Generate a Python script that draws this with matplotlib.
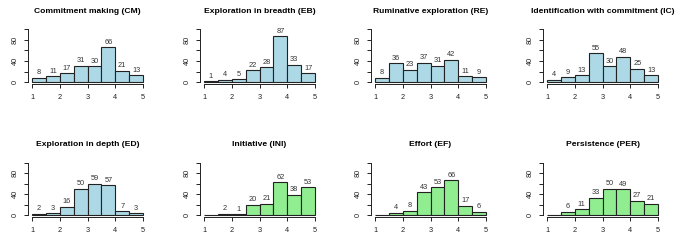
import matplotlib
matplotlib.use("Agg")
import matplotlib.pyplot as plt
import numpy as np

bin_edges = [1.0, 1.5, 2.0, 2.5, 3.0, 3.5, 4.0, 4.5, 5.0]
titles = ["Commitment making (CM)", "Exploration in breadth (EB)",
          "Ruminative exploration (RE)", "Identification with commitment (IC)",
          "Exploration in depth (ED)", "Initiative (INI)",
          "Effort (EF)", "Persistence (PER)"]
cm = [8, 11, 17, 31, 30, 66, 21, 13]
eb = [1, 4, 5, 22, 28, 87, 33, 17]
re_ = [8, 36, 23, 37, 31, 42, 11, 9]
ic = [4, 9, 13, 55, 30, 48, 25, 13]
ed = [2, 3, 16, 50, 59, 57, 7, 3]
ini = [0, 2, 1, 20, 21, 62, 38, 53]
ef = [0, 4, 8, 43, 53, 66, 17, 6]
per = [0, 6, 11, 33, 50, 49, 27, 21]
series = [cm, eb, re_, ic, ed, ini, ef, per]
colors = ["#ADD8E6"] * 5 + ["#90EE90"] * 3

plt.rcParams['font.family'] = ['Liberation Sans', 'DejaVu Sans']

fig = plt.figure(figsize=(6.88, 2.40), dpi=100)
W, H = 688.0, 240.0
lefts = [28.1, 200.1, 371.1, 543.1]
tops = [27.4, 160.4]
aw, ah = 118.8, 56.7

for i, (title, counts, col) in enumerate(zip(titles, series, colors)):
    r, c = divmod(i, 4)
    ax = fig.add_axes([lefts[c] / W, 1 - (tops[r] + ah) / H, aw / W, ah / H])
    edges = np.array(bin_edges)
    ax.bar(edges[:-1], counts, width=np.diff(edges), align='edge',
           color=col, edgecolor='#222222', linewidth=0.8)
    for x0, x1, v in zip(edges[:-1], edges[1:], counts):
        if v > 0:
            ax.text((x0 + x1) / 2, v + 3, str(v), ha='center', va='bottom',
                    fontsize=5.3, color='#333333')
    ax.set_xlim(0.86, 5.14)
    ax.set_ylim(-4, 104)
    for s in ['top', 'right']:
        ax.spines[s].set_visible(False)
    ax.spines['left'].set_bounds(0, 100)
    ax.spines['bottom'].set_bounds(1, 5)
    for s in ['left', 'bottom']:
        ax.spines[s].set_linewidth(0.7)
        ax.spines[s].set_color('#222222')
    ax.set_xticks([1, 2, 3, 4, 5])
    ax.set_xticklabels(['1', '2', '3', '4', '5'])
    ax.set_yticks([0, 20, 40, 60, 80, 100])
    ax.set_yticklabels(['0', '', '40', '', '80', ''], rotation=90, va='center')
    ax.tick_params(axis='both', labelsize=5.3, length=3, width=0.7,
                   color='#222222', labelcolor='#222222', pad=4)
    ax.set_title(title, fontsize=6.1, fontweight='bold', pad=10.5)
    ax.patch.set_visible(False)

fig.savefig("out.png", dpi=100)
